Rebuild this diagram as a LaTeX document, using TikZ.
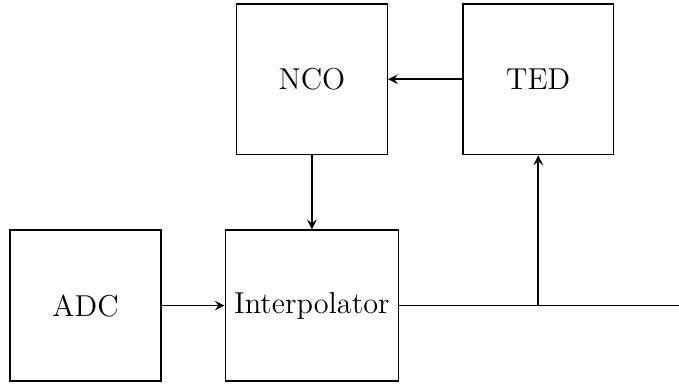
\documentclass[tikz,border=0pt]{standalone}
\usepackage{tikz}
\usetikzlibrary{positioning}

\tikzset{
    block/.style={draw, semithick, minimum size=2cm, font=\fontsize{11.4}{13.5}\selectfont},
}

\begin{document}
\begin{tikzpicture}[node distance=3cm, on grid, >=stealth]
    \useasboundingbox (-1.134,-1.027) rectangle (7.866,4.05);
    \node [block] (adc) {ADC};
    \node [block, right=of adc] (interp) {Interpolator};
    \node [block, above=of interp] (nco) {NCO};
    \node [block, right=of nco] (ted) {TED};
    % ausgang und abzweig zum TED
    \coordinate [right=4.87cm of interp] (out);
    \coordinate (branch) at (ted |- interp);

    \draw [->, semithick] (adc) -- (interp);
    \draw [semithick] (interp) -- (out);
    \draw [->, semithick] (branch) -- (ted);
    \draw [->, semithick] (ted) -- (nco);
    \draw [->, semithick] (nco) -- (interp);
\end{tikzpicture}
\end{document}
